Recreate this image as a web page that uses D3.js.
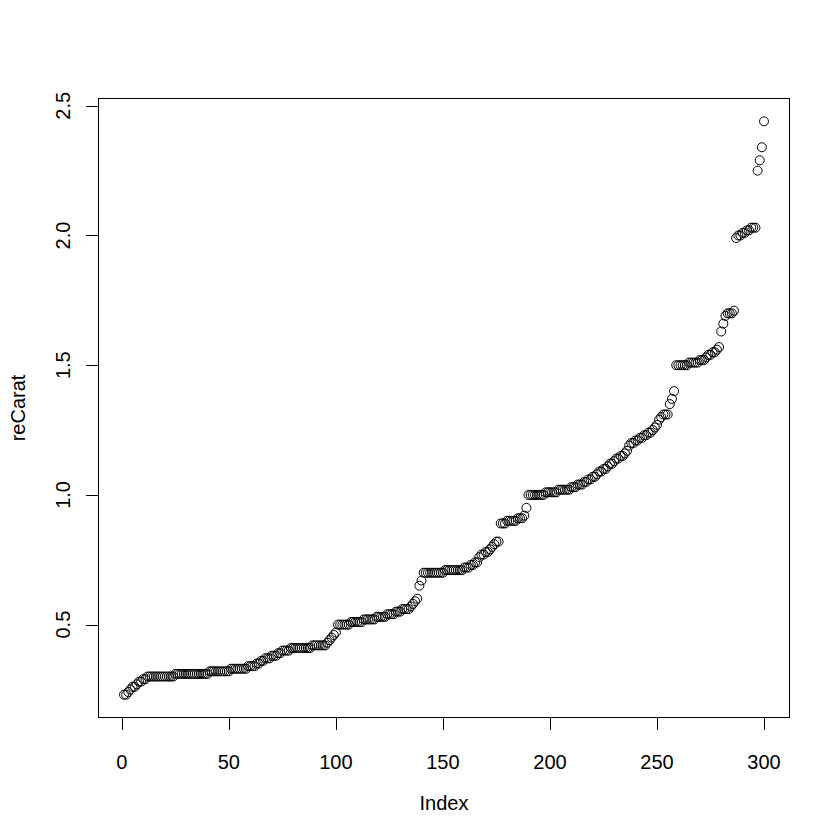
<!DOCTYPE html>
<html>
<head>
<meta charset="utf-8">
<script src="https://cdn.jsdelivr.net/npm/d3@7"></script>
<style>
  body { margin: 0; background: #fff; }
  text { font-family: "Liberation Sans", Arial, sans-serif; fill: #000; }
</style>
</head>
<body>
<script>
// sorted carat values (index 1..300)
const reCarat = [
  0.23, 0.23, 0.24, 0.25, 0.26, 0.26, 0.27, 0.28, 0.28, 0.29, 0.29,
  0.30, 0.30, 0.30, 0.30, 0.30, 0.30, 0.30, 0.30, 0.30, 0.30, 0.30, 0.30, 0.30,
  0.31, 0.31, 0.31, 0.31, 0.31, 0.31, 0.31, 0.31, 0.31, 0.31, 0.31, 0.31, 0.31, 0.31, 0.31, 0.31,
  0.32, 0.32, 0.32, 0.32, 0.32, 0.32, 0.32, 0.32, 0.32, 0.32,
  0.33, 0.33, 0.33, 0.33, 0.33, 0.33, 0.33, 0.33,
  0.34, 0.34, 0.34, 0.34,
  0.35, 0.35, 0.36, 0.36,
  0.37, 0.37, 0.37, 0.38, 0.38, 0.38,
  0.39, 0.39, 0.40, 0.40, 0.40, 0.40,
  0.41, 0.41, 0.41, 0.41, 0.41, 0.41, 0.41, 0.41, 0.41, 0.41,
  0.42, 0.42, 0.42, 0.42, 0.42, 0.42, 0.42,
  0.43, 0.44, 0.45, 0.46, 0.47,
  0.50, 0.50, 0.50, 0.50, 0.50, 0.50,
  0.51, 0.51, 0.51, 0.51, 0.51, 0.51, 0.52, 0.52, 0.52, 0.52, 0.52, 0.52,
  0.53, 0.53, 0.53, 0.53, 0.53, 0.54, 0.54, 0.54, 0.54,
  0.55, 0.55, 0.55, 0.56, 0.56, 0.56, 0.56,
  0.57, 0.58, 0.59, 0.60,
  0.65, 0.67,
  0.70, 0.70, 0.70, 0.70, 0.70, 0.70, 0.70, 0.70, 0.70, 0.70,
  0.71, 0.71, 0.71, 0.71, 0.71, 0.71, 0.71, 0.71, 0.71,
  0.72, 0.72, 0.72, 0.73, 0.73, 0.74, 0.74,
  0.76, 0.77, 0.77, 0.78, 0.78, 0.79, 0.80, 0.81, 0.82, 0.82,
  0.89, 0.89, 0.89, 0.90, 0.90, 0.90, 0.90, 0.90, 0.91, 0.91, 0.91, 0.92, 0.95,
  1.00, 1.00, 1.00, 1.00, 1.00, 1.00, 1.00, 1.00, 1.01, 1.01, 1.01, 1.01, 1.01, 1.01,
  1.02, 1.02, 1.02, 1.02, 1.02, 1.02, 1.03, 1.03, 1.03, 1.04, 1.04,
  1.04, 1.05, 1.05, 1.06, 1.06, 1.07, 1.07, 1.08, 1.09, 1.09, 1.10, 1.10, 1.11,
  1.12, 1.12, 1.13, 1.14, 1.14, 1.15, 1.15, 1.16, 1.17,
  1.19, 1.20, 1.20, 1.21, 1.21, 1.22, 1.22, 1.23, 1.23, 1.24, 1.24, 1.25,
  1.26, 1.27, 1.29, 1.30,
  1.31, 1.31, 1.31, 1.35, 1.37, 1.40,
  1.50, 1.50, 1.50, 1.50, 1.50, 1.50, 1.51, 1.51, 1.51, 1.51, 1.51,
  1.52, 1.52, 1.52,
  1.53, 1.54, 1.54, 1.55, 1.55, 1.56, 1.57,
  1.63, 1.66, 1.69, 1.70, 1.70, 1.70, 1.71,
  1.99, 2.00, 2.00, 2.01, 2.01, 2.02, 2.02, 2.03, 2.03, 2.03,
  2.25, 2.29, 2.34, 2.44
]

const xTicks = [0, 50, 100, 150, 200, 250, 300]
const yTicks = [0.5, 1.0, 1.5, 2.0, 2.5]
const yTickLabels = ['0.5', '1.0', '1.5', '2.0', '2.5']

// R default margins: 5.1, 4.1, 4.1, 2.1 lines at 24px per line
const margin = { top: 98.4, left: 98.4, right: 50.4, bottom: 122.4 }
const width = 840 - margin.left - margin.right
const height = 840 - margin.top - margin.bottom

const svg = d3
  .select('body')
  .append('svg')
  .attr('width', 840)
  .attr('height', 840)

const g = svg
  .append('g')
  .attr('transform', 'translate(' + margin.left + ',' + margin.top + ')')

// 4% padding on each side like R's xaxs = "r"
const n = reCarat.length
const xPad = (n - 1) * 0.04
const yExt = d3.extent(reCarat)
const yPad = (yExt[1] - yExt[0]) * 0.04

const xPositionScale = d3.scaleLinear()
  .domain([1 - xPad, n + xPad])
  .range([0, width])
const yPositionScale = d3.scaleLinear()
  .domain([yExt[0] - yPad, yExt[1] + yPad])
  .range([height, 0])

// box around plot region
g.append('rect')
  .attr('x', 0)
  .attr('y', 0)
  .attr('width', width)
  .attr('height', height)
  .attr('fill', 'none')
  .attr('stroke', '#000')
  .attr('stroke-width', 1)
  .attr('shape-rendering', 'crispEdges')

// x axis
const xAxis = d3.axisBottom(xPositionScale)
  .tickValues(xTicks)
  .tickSize(12)
  .tickPadding(0)
  .tickFormat(d => '')
const xg = g.append('g')
  .attr('class', 'axis x-axis')
  .attr('transform', 'translate(0,' + height + ')')
  .call(xAxis)
xg.select('.domain')
  .attr('d', 'M' + xPositionScale(xTicks[0]) + ',0H' + xPositionScale(xTicks[xTicks.length - 1]))
xg.selectAll('line, path').attr('stroke', '#000').attr('shape-rendering', 'crispEdges')

g.selectAll('.x-label')
  .data(xTicks)
  .enter()
  .append('text')
  .attr('class', 'x-label')
  .attr('x', d => xPositionScale(d))
  .attr('y', height + 51)
  .attr('text-anchor', 'middle')
  .attr('font-size', 20)
  .text(d => d)

// y axis
const yAxis = d3.axisLeft(yPositionScale)
  .tickValues(yTicks)
  .tickSize(12)
  .tickFormat(d => '')
const yg = g.append('g')
  .attr('class', 'axis y-axis')
  .call(yAxis)
yg.select('.domain')
  .attr('d', 'M0,' + yPositionScale(yTicks[0]) + 'V' + yPositionScale(yTicks[yTicks.length - 1]))
yg.selectAll('line, path').attr('stroke', '#000').attr('shape-rendering', 'crispEdges')

g.selectAll('.y-label')
  .data(yTicks)
  .enter()
  .append('text')
  .attr('class', 'y-label')
  .attr('transform', (d, i) => 'translate(-28,' + yPositionScale(d) + ') rotate(-90)')
  .attr('text-anchor', 'middle')
  .attr('font-size', 20)
  .text((d, i) => yTickLabels[i])

// axis titles
svg.append('text')
  .attr('x', margin.left + width / 2)
  .attr('y', 810)
  .attr('text-anchor', 'middle')
  .attr('font-size', 20)
  .text('Index')

svg.append('text')
  .attr('transform', 'translate(25,' + (margin.top + height / 2) + ') rotate(-90)')
  .attr('text-anchor', 'middle')
  .attr('font-size', 20)
  .text('reCarat')

// points
g.selectAll('circle')
  .data(reCarat)
  .enter()
  .append('circle')
  .attr('cx', (d, i) => xPositionScale(i + 1))
  .attr('cy', d => yPositionScale(d))
  .attr('r', 4.5)
  .attr('fill', 'none')
  .attr('stroke', '#000')
  .attr('stroke-width', 1)
</script>
</body>
</html>
